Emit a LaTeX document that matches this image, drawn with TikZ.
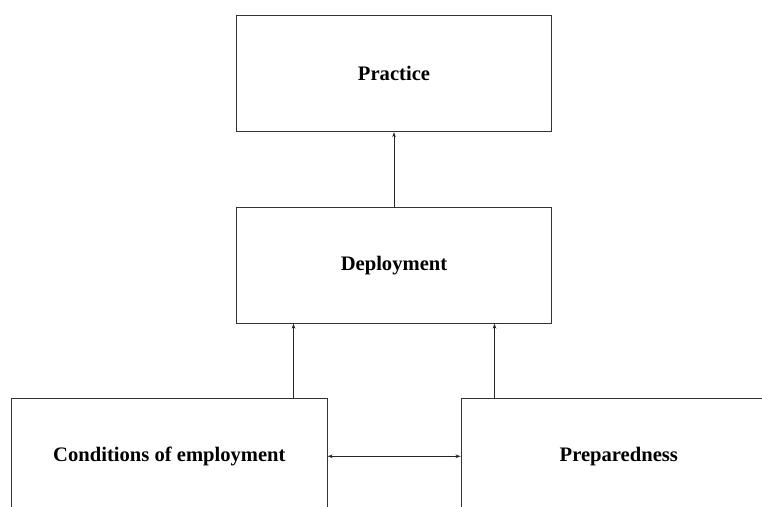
\documentclass[tikz,border=0pt]{standalone}
\usepackage{fontspec}
\setmainfont{Liberation Serif}
\usetikzlibrary{arrows.meta}
\begin{document}
\begin{tikzpicture}[x=1pt,y=-1pt,
  box/.style={draw=black!80, line width=0.8pt, minimum width=315.7pt, minimum height=116pt,
    inner sep=0pt, font=\fontsize{20.6}{24}\selectfont\bfseries},
  arr/.style={draw=black!85, line width=0.8pt, -{Stealth[length=5pt,width=3.6pt]}},
  darr/.style={draw=black!85, line width=0.8pt, {Stealth[length=5pt,width=3.6pt]}-{Stealth[length=5pt,width=3.6pt]}}]
  \clip (0,0) rectangle (762,506);
  \fill[white] (0,0) rectangle (762,506);
  \node[box] (prac) at (394,73.8) {Practice};
  \node[box] (dep)  at (394,265.3) {Deployment};
  \node[box] (cond) at (169.4,456.3) {Conditions of employment};
  \node[box] (prep) at (618.8,456.3) {Preparedness};
  \coordinate (la) at (293.5,0);
  \coordinate (ra) at (494.5,0);
  \draw[arr] (dep.north) -- (prac.south);
  \draw[arr] (cond.north -| la) -- (dep.south -| la);
  \draw[arr] (prep.north -| ra) -- (dep.south -| ra);
  \draw[darr] (cond.east) -- (prep.west);
\end{tikzpicture}
\end{document}
